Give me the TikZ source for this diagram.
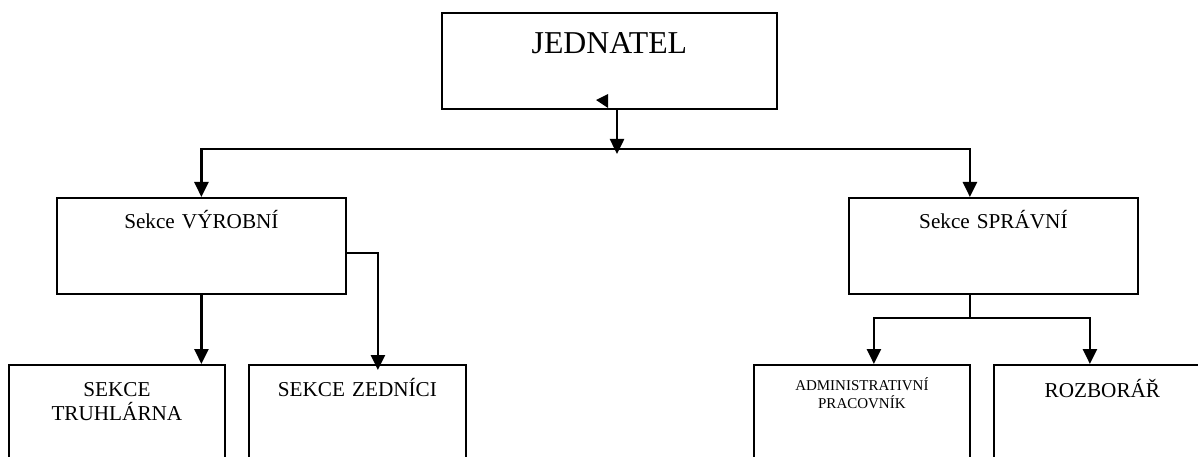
\documentclass[tikz,border=0pt]{standalone}
\usepackage{fontspec}
\setmainfont{Liberation Serif}
\usetikzlibrary{arrows.meta, positioning}

\tikzset{
    sekce/.style={draw, line width=1.8pt, anchor=north west, inner xsep=0pt, inner ysep=0pt, align=center,
        font=\fontsize{21.2}{24}\selectfont},
    spoj/.style={line width=2.5pt, ->},
}

\begin{document}
\begin{tikzpicture}[x=1pt, y=-1pt, >={Triangle[width=14pt, length=15pt]}]

    % rozmery obrazku
    \useasboundingbox (0,0) rectangle (1198,457);
    \clip (0,0) rectangle (1198,457);

    % =================================================================
    % 1. BLOKY ORGANIZACNI STRUKTURY
    % =================================================================
    \node[sekce, text width=335pt, text height=41pt, text depth=55pt,
          font=\fontsize{31.8}{38}\selectfont] (jednatel) at (441,12) {JEDNATEL};

    \node[sekce, text width=289pt, text height=31pt, text depth=65pt] (vyroba) at (56,197) {Sekce VÝROBNÍ};
    \node[sekce, text width=289pt, text height=31pt, text depth=65pt] (sprava) at (848,197) {Sekce SPRÁVNÍ};

    \node[sekce, text width=216pt, text height=32pt, text depth=130pt] (truhlarna) at (8,364) {SEKCE\\TRUHLÁRNA};
    \node[sekce, text width=217pt, text height=32pt, text depth=130pt] (zednici) at (248,364) {SEKCE ZEDNÍCI};
    \node[sekce, text width=216pt, text height=26pt, text depth=130pt,
          font=\fontsize{15}{18}\selectfont] (admin) at (753,364) {ADMINISTRATIVNÍ\\PRACOVNÍK};
    \node[sekce, text width=217pt, text height=33pt, text depth=130pt] (rozborar) at (993,364) {ROZBORÁŘ};

    % =================================================================
    % 2. SPOJOVACI CARY
    % =================================================================
    % od jednatele k obema sekcim
    \coordinate (rozcesti) at (617,149);
    \draw[spoj, shorten >=-5pt] (jednatel.south -| rozcesti) -- (rozcesti);
    \draw[spoj] (rozcesti) -| (vyroba.north);
    \draw[spoj] (rozcesti) -| ([xshift=-23.5pt]sprava.north);

    % vyrobni sekce
    \draw[spoj] (vyroba.south) -- (vyroba.south |- truhlarna.north);
    \draw[spoj, shorten >=-6pt] ([yshift=-7pt]vyroba.east) -| ([xshift=20.5pt]zednici.north);

    % spravni sekce
    \draw[line width=2.5pt] ([xshift=-23.5pt]sprava.south) -- ++(0,23) coordinate (uzel);
    \draw[spoj] (uzel) -| ([xshift=12pt]admin.north);
    \draw[spoj] (uzel) -| ([xshift=-12.5pt]rozborar.north);

    % maly trojuhelnik pod textem jednatele
    \fill (608,94) -- (608,108) -- (596,100) -- cycle;

\end{tikzpicture}
\end{document}
